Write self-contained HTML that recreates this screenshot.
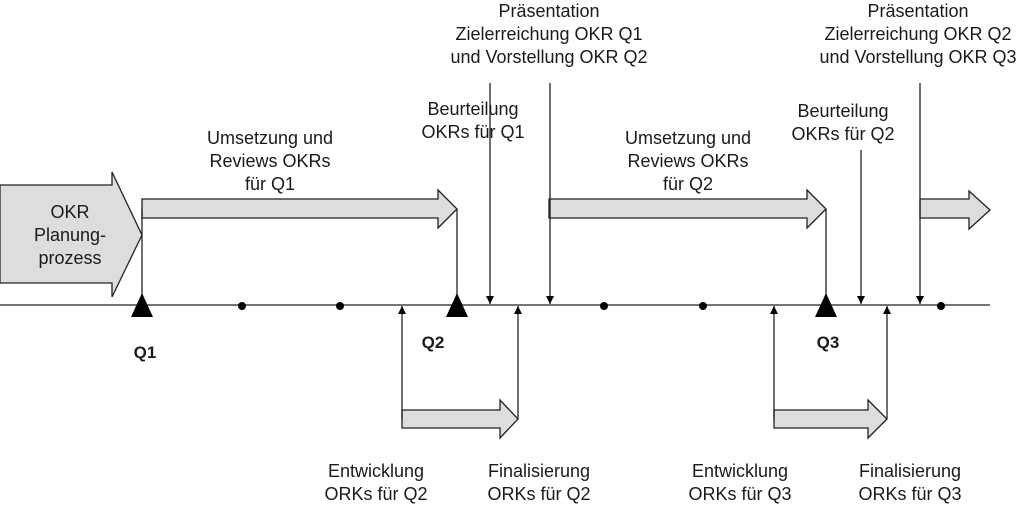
<!DOCTYPE html>
<html><head><meta charset="utf-8"><style>
html,body{margin:0;padding:0;background:#fff;}
svg{display:block;}
text{font-family:"Liberation Sans",Arial,sans-serif;font-size:18px;fill:#1a1a1a;text-anchor:middle;}
.b{font-weight:bold;font-size:17px;}
</style></head><body>
<svg width="1024" height="506" viewBox="0 0 1024 506">
<defs>
<marker id="ah" viewBox="0 0 10 10" refX="10" refY="5" markerWidth="8" markerHeight="8" markerUnits="userSpaceOnUse" orient="auto"><path d="M0,0 L10,5 L0,10 z" fill="#000"/></marker>
</defs>
<g stroke="#222" stroke-width="1.3" fill="#ddd">
<path d="M0,185 L112,185 L112,172 L142,235 L112,297 L112,283 L0,283 z"/>
<path d="M142,199 L438,199 L438,190 L457,209 L438,228 L438,218 L142,218 z"/>
<path d="M549,199 L807,199 L807,190 L826,209 L807,228 L807,218 L549,218 z"/>
<path d="M920,199 L969,199 L969,191 L990,210 L969,229 L969,218 L920,218 z"/>
<path d="M402,410 L500,410 L500,400 L518,419 L500,438 L500,428 L402,428 z"/>
<path d="M774,410 L868,410 L868,400 L887,419 L868,438 L868,428 L774,428 z"/>
</g>
<g stroke="#222" stroke-width="1.3" fill="none">
<line x1="0" y1="305" x2="990" y2="305"/>
<line x1="142" y1="209" x2="142" y2="300"/>
<line x1="457" y1="209" x2="457" y2="300"/>
<line x1="826" y1="209" x2="826" y2="300"/>
<line x1="402" y1="419" x2="402" y2="306" marker-end="url(#ah)"/>
<line x1="518" y1="419" x2="518" y2="306" marker-end="url(#ah)"/>
<line x1="774" y1="419" x2="774" y2="306" marker-end="url(#ah)"/>
<line x1="887" y1="419" x2="887" y2="306" marker-end="url(#ah)"/>
<line x1="490" y1="83" x2="490" y2="304" marker-end="url(#ah)"/>
<line x1="550" y1="83" x2="550" y2="304" marker-end="url(#ah)"/>
<line x1="861" y1="150" x2="861" y2="304" marker-end="url(#ah)"/>
<line x1="920" y1="83" x2="920" y2="304" marker-end="url(#ah)"/>
</g>
<g fill="#000">
<path d="M142,293 L131,317 L153,317 z"/>
<path d="M457,293 L446,317 L468,317 z"/>
<path d="M826,293 L815,317 L837,317 z"/>
<circle cx="242" cy="306" r="4"/><circle cx="340" cy="306" r="4"/>
<circle cx="604" cy="306" r="4"/><circle cx="703" cy="306" r="4"/>
<circle cx="941" cy="306" r="4"/>
</g>
<text x="70" y="218">OKR</text><text x="70" y="241">Planung-</text><text x="70" y="264">prozess</text>
<text x="270" y="144">Umsetzung und</text><text x="270" y="167">Reviews OKRs</text><text x="270" y="190">für Q1</text>
<text x="688" y="144">Umsetzung und</text><text x="688" y="167">Reviews OKRs</text><text x="688" y="190">für Q2</text>
<text x="473" y="115">Beurteilung</text><text x="473" y="138">OKRs für Q1</text>
<text x="843" y="117">Beurteilung</text><text x="843" y="140">OKRs für Q2</text>
<text x="549" y="17">Präsentation</text><text x="549" y="40">Zielerreichung OKR Q1</text><text x="549" y="63">und Vorstellung OKR Q2</text>
<text x="918" y="17">Präsentation</text><text x="918" y="40">Zielerreichung OKR Q2</text><text x="918" y="63">und Vorstellung OKR Q3</text>
<text x="376" y="477">Entwicklung</text><text x="376" y="500">ORKs für Q2</text>
<text x="539" y="477">Finalisierung</text><text x="539" y="500">ORKs für Q2</text>
<text x="740" y="477">Entwicklung</text><text x="740" y="500">ORKs für Q3</text>
<text x="910" y="477">Finalisierung</text><text x="910" y="500">ORKs für Q3</text>
<text class="b" x="145" y="358">Q1</text>
<text class="b" x="433" y="348">Q2</text>
<text class="b" x="828" y="348">Q3</text>
</svg>
</body></html>
